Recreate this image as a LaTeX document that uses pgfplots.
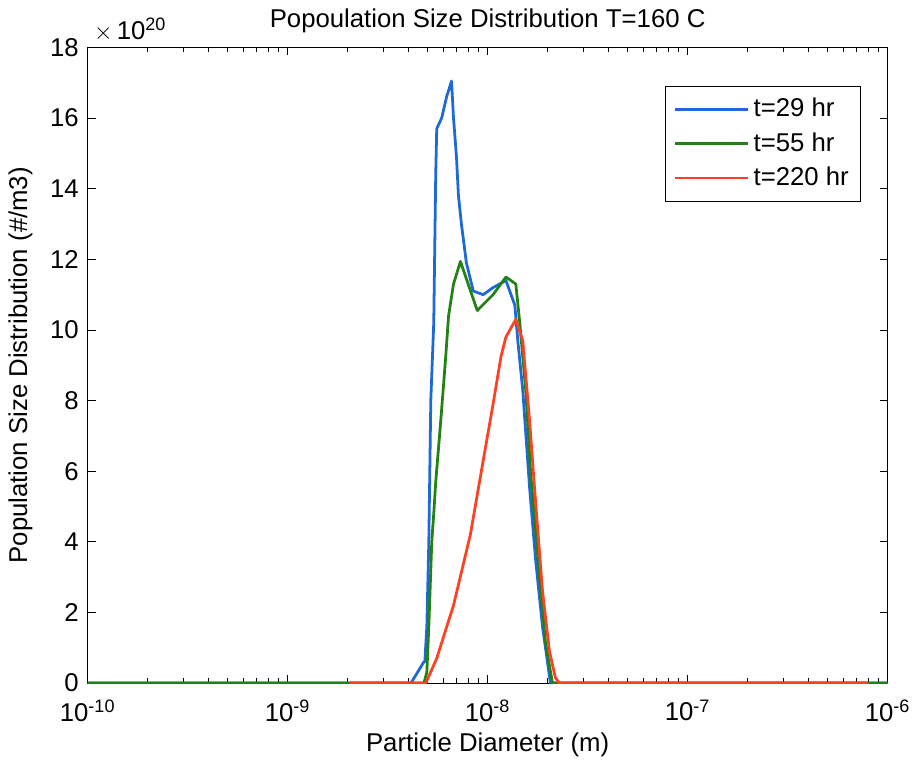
\documentclass[border=0pt]{standalone}
\usepackage{fontspec}
\setmainfont{Liberation Sans}
\usepackage{pgfplots}
\pgfplotsset{compat=1.18}

\definecolor{c29}{RGB}{30,105,215}
\definecolor{c55}{RGB}{35,130,20}
\definecolor{c220}{RGB}{255,65,35}

\begin{document}
\fontsize{13}{15}\selectfont
\begin{tikzpicture}
\begin{axis}[
    scale only axis,
    width=404pt, height=321pt,
    clip mode=individual,
    xmode=log,
    xmin=1e-10, xmax=1e-6,
    ymin=0, ymax=18,
    xtick={1e-10,1e-9,1e-8,1e-7,1e-6},
    xticklabels={10\textsuperscript{-10},10\textsuperscript{-9},10\textsuperscript{-8},10\textsuperscript{-7},10\textsuperscript{-6}},
    xticklabel style={yshift=-4pt},
    ytick={0,2,...,18},
    /pgf/number format/assume math mode=true,
    major tick length=4pt,
    minor tick length=2.5pt,
    tick style={black, line width=0.4pt},
    axis line style={line width=0.5pt},
    title={Popoulation Size Distribution T=160 C},
    title style={yshift=-3pt},
    xlabel={Particle Diameter (m)},
    xlabel style={yshift=3pt},
    ylabel={Population Size Distribution (\#/m3)},
    legend style={at={(0.967,0.94)}, anchor=north east, draw=black,
        line width=0.5pt, row sep=2pt, inner sep=4pt},
    legend cell align=left,
    legend image code/.code={\draw[#1, line width=1.4pt] (0pt,0pt) -- (37pt,0pt);},
    every axis plot/.append style={line width=1.4pt, line join=round},
]

\addplot[c29] coordinates {
    (1e-10,0) (4.14e-9,0) (4.80e-9,0.6) (4.853e-9,0.6) (4.965e-9,1.6)
    (5.08e-9,4.0) (5.197e-9,8.0) (5.377e-9,10.2) (5.501e-9,14.4) (5.565e-9,15.7)
    (5.89e-9,16.0) (6.234e-9,16.6) (6.599e-9,17.05) (6.751e-9,16.0) (6.986e-9,14.9)
    (7.146e-9,13.8) (7.396e-9,13.0) (7.83e-9,11.9) (8.479e-9,11.1) (9.502e-9,11.0)
    (1.0647e-8,11.2) (1.2346e-8,11.4) (1.3677e-8,10.7) (1.4152e-8,9.7) (1.4982e-8,8.3)
    (1.6226e-8,5.5) (1.737e-8,3.5) (1.8812e-8,1.6) (2.0613e-8,0) (1e-6,0)
};
\addlegendentry{t=29 hr}

\addplot[c55] coordinates {
    (1e-10,0) (4.80e-9,0) (4.965e-9,0.3) (5.08e-9,1.6) (5.256e-9,4.0)
    (5.377e-9,4.8) (5.501e-9,5.7) (5.824e-9,7.4) (6.164e-9,9.2) (6.378e-9,10.4)
    (6.751e-9,11.3) (7.311e-9,11.94) (8.875e-9,10.55) (1.0647e-8,11.0) (1.2346e-8,11.5)
    (1.3833e-8,11.3) (1.4478e-8,10.2) (1.5504e-8,8.3) (1.6412e-8,5.95) (1.818e-8,3.0)
    (1.9472e-8,1.15) (2.1088e-8,0) (1e-6,0)
};
\addlegendentry{t=55 hr}

\addplot[c220] coordinates {
    (2.04e-9,0) (4.909e-9,0) (5.565e-9,0.7) (6.751e-9,2.2) (8.195e-9,4.2)
    (9.502e-9,6.3) (1.0647e-8,7.9) (1.1664e-8,9.25) (1.2346e-8,9.8) (1.3833e-8,10.3)
    (1.4982e-8,9.7) (1.6226e-8,7.4) (1.7173e-8,5.5) (1.8812e-8,2.6) (2.038e-8,0.9)
    (2.182e-8,0.15) (2.2837e-8,0) (8e-7,0)
};
\addlegendentry{t=220 hr}

\node[anchor=south west, inner sep=1pt, xshift=2pt, yshift=2pt] at (rel axis cs:0,1) {$\times$\,10\textsuperscript{20}};
\end{axis}
\end{tikzpicture}
\end{document}
